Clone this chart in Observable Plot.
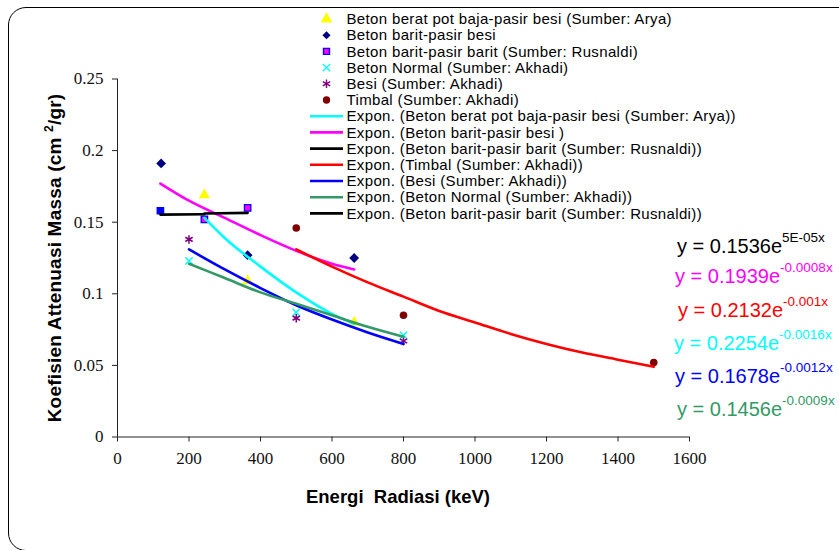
<!DOCTYPE html>
<html>
<head>
<meta charset="utf-8">
<script src="https://cdn.jsdelivr.net/npm/d3@7"></script>
<script src="https://cdn.jsdelivr.net/npm/@observablehq/plot@0.6"></script>
<style>
  html, body { margin: 0; padding: 0; background: #fff; overflow: hidden; }
  #wrap { position: relative; width: 839px; height: 550px; overflow: hidden; }
  #frame { position: absolute; left: 8px; top: 7px; width: 880px; height: 544px; border: 1.5px solid #000; border-radius: 18px; box-sizing: border-box; }
  #chart, #over { position: absolute; left: 0; top: 0; }
</style>
</head>
<body>
<div id="wrap">
  <div id="frame"></div>
  <div id="chart"></div>
  <svg id="over" width="839" height="550"></svg>
</div>
<script>
// ---- Data ----
// Scatter series
const aryaX = [243, 364, 662];           // Beton berat pot baja-pasir besi (Arya)
const aryaY = [0.169, 0.109, 0.080];
const baritBesiX = [122, 364, 662];      // Beton barit-pasir besi
const baritBesiY = [0.191, 0.127, 0.125];
const rusnaldiX = [120, 243, 364];       // Beton barit-pasir barit (Rusnaldi)
const rusnaldiY = [0.158, 0.152, 0.160];
const normalX = [200, 500, 800];         // Beton Normal (Akhadi)
const normalY = [0.123, 0.087, 0.071];
const besiX = [200, 500, 800];           // Besi (Akhadi)
const besiY = [0.138, 0.083, 0.067];
const timbalX = [500, 800, 1500];        // Timbal (Akhadi)
const timbalY = [0.146, 0.085, 0.052];

// Trend lines
const trAryaX = [243, 300, 400, 500, 600, 662];
const trAryaY = [0.153, 0.139, 0.119, 0.101, 0.086, 0.079];
const trBaritBesiX = [120, 200, 300, 400, 500, 600, 662];
const trBaritBesiY = [0.177, 0.165, 0.153, 0.141, 0.130, 0.121, 0.117];
const trRus1X = [120, 243];
const trRus1Y = [0.1553, 0.1556];
const trRus2X = [243, 364];
const trRus2Y = [0.1561, 0.1565];
const trTimbalX = [500, 600, 700, 800, 900, 1000, 1100, 1200, 1300, 1400, 1500];
const trTimbalY = [0.131, 0.119, 0.108, 0.098, 0.088, 0.080, 0.072, 0.065, 0.059, 0.054, 0.049];
const trBesiX = [200, 300, 400, 500, 600, 700, 800];
const trBesiY = [0.131, 0.117, 0.104, 0.092, 0.082, 0.073, 0.065];
const trNormalX = [200, 300, 400, 500, 600, 700, 800];
const trNormalY = [0.121, 0.111, 0.101, 0.093, 0.085, 0.077, 0.070];

// Axis ticks
const xTicks = [0, 200, 400, 600, 800, 1000, 1200, 1400, 1600];
const xTickLabels = ["0", "200", "400", "600", "800", "1000", "1200", "1400", "1600"];
const yTicks = [0, 0.05, 0.1, 0.15, 0.2, 0.25];
const yTickLabels = ["0", "0.05", "0.1", "0.15", "0.2", "0.25"];

// Legend and equations text
const legendLabels = [
  "Beton berat pot baja-pasir besi (Sumber: Arya)",
  "Beton barit-pasir besi",
  "Beton barit-pasir barit (Sumber: Rusnaldi)",
  "Beton Normal (Sumber: Akhadi)",
  "Besi (Sumber: Akhadi)",
  "Timbal (Sumber: Akhadi)",
  "Expon. (Beton berat pot baja-pasir besi (Sumber: Arya))",
  "Expon. (Beton barit-pasir besi )",
  "Expon. (Beton barit-pasir barit (Sumber: Rusnaldi))",
  "Expon. (Timbal (Sumber: Akhadi))",
  "Expon. (Besi (Sumber: Akhadi))",
  "Expon. (Beton Normal (Sumber: Akhadi))",
  "Expon. (Beton barit-pasir barit (Sumber: Rusnaldi))"
];
const eqMain = ["y = 0.1536e", "y = 0.1939e", "y = 0.2132e", "y = 0.2254e", "y = 0.1678e", "y = 0.1456e"];
const eqSup = ["5E-05x", "-0.0008x", "-0.001x", "-0.0016x", "-0.0012x", "-0.0009x"];

// ---- Styles ----
const C = {
  yellow: "#FFFF00", navy: "#000080", magenta: "#FF00FF", blue: "#0000FF",
  cyan: "#00FFFF", purple: "#800080", maroon: "#800000", red: "#FF0000",
  green: "#339966", black: "#000000"
};
const serif = "Liberation Serif";
const sans = "'Liberation Sans', Arial, sans-serif";

const zip = (xs, ys) => xs.map((x, i) => ({x, y: ys[i], i}));
const lineOpts = (stroke) => ({x: "x", y: "y", stroke, strokeWidth: 2.6, curve: "monotone-x"});

const plot = Plot.plot({
  width: 839,
  height: 550,
  marginLeft: 117,
  marginRight: 150,
  marginTop: 78.5,
  marginBottom: 113.5,
  style: {background: "transparent", overflow: "visible", color: "#111"},
  x: {domain: [0, 1600]},
  y: {domain: [0, 0.25]},
  marks: [
    Plot.ruleX([0], {stroke: "#222", strokeWidth: 1}),
    Plot.ruleY([0], {stroke: "#222", strokeWidth: 1}),
    Plot.axisX({ticks: xTicks, tickSize: 5, text: null, stroke: "#222", label: null}),
    Plot.axisY({ticks: yTicks, tickSize: 5, text: null, stroke: "#222", label: null}),
    Plot.text(xTicks, {x: (d) => d, frameAnchor: "bottom", dy: 27, fontFamily: serif, fontSize: 17,
      fill: "#111", text: (d) => xTickLabels[xTicks.indexOf(d)]}),
    Plot.text(yTicks, {y: (d) => d, frameAnchor: "left", dx: -14, textAnchor: "end", fontFamily: serif, fontSize: 17,
      fill: "#111", text: (d) => yTickLabels[yTicks.indexOf(d)]}),
    // markers
    Plot.dot(zip(aryaX, aryaY), {x: "x", y: "y", symbol: "triangle", r: 4.2, fill: C.yellow}),
    Plot.dot(zip(baritBesiX, baritBesiY), {x: "x", y: "y", symbol: "diamond2", r: 4.4, fill: C.navy, stroke: "none"}),
    Plot.dot(zip(rusnaldiX, rusnaldiY), {x: "x", y: "y", symbol: "square", r: 3.6,
      fill: (d) => d.i === 0 ? C.blue : C.magenta, stroke: C.blue, strokeWidth: 1.3}),
    Plot.dot(zip(normalX, normalY), {x: "x", y: "y", symbol: "times", r: 3.4, stroke: C.cyan, strokeWidth: 1.5}),
    Plot.dot(zip(besiX, besiY), {x: "x", y: "y", symbol: "asterisk", r: 4, stroke: C.purple, strokeWidth: 1.5}),
    Plot.dot(zip(timbalX, timbalY), {x: "x", y: "y", symbol: "circle", r: 3.8, fill: C.maroon}),
    // trend lines
    Plot.line(zip(trAryaX, trAryaY), lineOpts(C.cyan)),
    Plot.line(zip(trBaritBesiX, trBaritBesiY), lineOpts(C.magenta)),
    Plot.line(zip(trRus1X, trRus1Y), lineOpts(C.black)),
    Plot.line(zip(trTimbalX, trTimbalY), lineOpts(C.red)),
    Plot.line(zip(trBesiX, trBesiY), lineOpts(C.blue)),
    Plot.line(zip(trNormalX, trNormalY), lineOpts(C.green)),
    Plot.line(zip(trRus2X, trRus2Y), lineOpts(C.black))
  ]
});
document.getElementById("chart").appendChild(plot);

// ---- Overlay: legend, equations, axis titles ----
const svg = d3.select("#over");

const legendSym = [
  {type: "sym", sym: d3.symbolTriangle, size: 60, fill: C.yellow},
  {type: "sym", sym: d3.symbolDiamond2, size: 42, fill: C.navy},
  {type: "sym", sym: d3.symbolSquare, size: 36, fill: C.magenta, stroke: C.blue},
  {type: "sym", sym: d3.symbolTimes, size: 38, fill: "none", stroke: C.cyan},
  {type: "sym", sym: d3.symbolAsterisk, size: 50, fill: "none", stroke: C.purple},
  {type: "sym", sym: d3.symbolCircle, size: 42, fill: C.maroon},
  {type: "line", stroke: C.cyan},
  {type: "line", stroke: C.magenta},
  {type: "line", stroke: C.black},
  {type: "line", stroke: C.red},
  {type: "line", stroke: C.blue},
  {type: "line", stroke: C.green},
  {type: "line", stroke: C.black}
];
const lg = svg.append("g");
legendLabels.forEach((label, i) => {
  const cy = 19 + i * 16.2;
  const s = legendSym[i];
  if (s.type === "sym") {
    lg.append("path")
      .attr("d", d3.symbol(s.sym, s.size)())
      .attr("transform", `translate(326.5,${cy})`)
      .attr("fill", s.fill)
      .attr("stroke", s.stroke || "none")
      .attr("stroke-width", 1.4);
  } else {
    lg.append("line").attr("x1", 310).attr("x2", 343).attr("y1", cy).attr("y2", cy)
      .attr("stroke", s.stroke).attr("stroke-width", 2.6);
  }
  lg.append("text")
    .attr("x", 346.5).attr("y", cy + 5.2)
    .attr("font-family", sans).attr("font-size", 15)
    .attr("letter-spacing", 0.35)
    .attr("fill", "#000")
    .text(label);
});

const eqColors = [C.black, C.magenta, C.red, C.cyan, C.blue, C.green];
const eqX = [677, 675, 678, 674, 675, 677];
const eqBase = [252.5, 282.5, 316.5, 350, 383, 415.5];
eqMain.forEach((t, i) => {
  const tx = svg.append("text")
    .attr("x", eqX[i]).attr("y", eqBase[i])
    .attr("font-family", sans).attr("font-size", 20)
    .attr("fill", eqColors[i]);
  tx.append("tspan").text(t);
  tx.append("tspan").attr("dy", -11).attr("font-size", 13.5).text(eqSup[i]);
});

// Y axis title
const yt = svg.append("text")
  .attr("transform", "translate(61,258) rotate(-90)")
  .attr("text-anchor", "middle")
  .attr("font-family", sans).attr("font-size", 19).attr("font-weight", "bold")
  .attr("letter-spacing", 0.2)
  .attr("fill", "#000");
yt.append("tspan").text("Koefisien Attenuasi Massa (cm ");
yt.append("tspan").attr("dy", -8).attr("font-size", 12).text("2");
yt.append("tspan").attr("dy", 8).text("/gr)");

// X axis title
svg.append("text")
  .attr("x", 398).attr("y", 503)
  .attr("text-anchor", "middle")
  .attr("font-family", sans).attr("font-size", 18.5).attr("font-weight", "bold")
  .attr("fill", "#000")
  .style("white-space", "pre")
  .text("Energi  Radiasi (keV)");
</script>
</body>
</html>
